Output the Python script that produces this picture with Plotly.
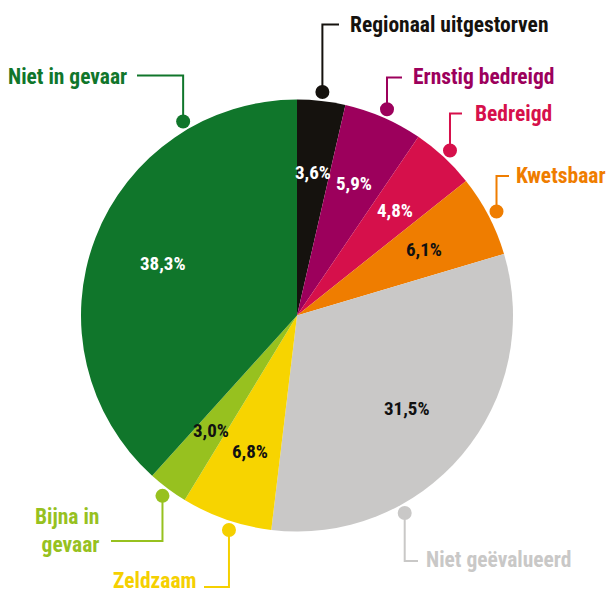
import math
import plotly.graph_objects as go

# ---------------- data ----------------
categories = ["Regionaal uitgestorven", "Ernstig bedreigd", "Bedreigd", "Kwetsbaar",
              "Niet geëvalueerd", "Zeldzaam", "Bijna in gevaar", "Niet in gevaar"]
values = [3.6, 5.9, 4.8, 6.1, 31.5, 6.8, 3.0, 38.3]
pct_labels = ["3,6%", "5,9%", "4,8%", "6,1%", "31,5%", "6,8%", "3,0%", "38,3%"]
display_labels = ["Regionaal uitgestorven", "Ernstig bedreigd", "Bedreigd", "Kwetsbaar",
                  "Niet geëvalueerd", "Zeldzaam", "Bijna in<br>gevaar", "Niet in gevaar"]

# ---------------- style ----------------
slice_colors = ["#15120e", "#9c005c", "#d6104b", "#ef7d00",
                "#c9c8c7", "#f7d400", "#97c11f", "#10762b"]
label_colors = ["#15120e", "#9c005c", "#d6104b", "#ef7d00",
                "#c9c8c7", "#f5d000", "#97c11f", "#10762b"]
pct_text_colors = ["white", "white", "white", "#111111",
                   "#111111", "#111111", "#111111", "white"]

FONT = "Roboto Condensed, Open Sans Condensed, DejaVu Sans Condensed, sans-serif"

W, H = 609, 592
CX, CY, R = 297, 315.5, 216
PCT_RFRAC = 0.665
DOT_R = 225
DOT_SIZE = 7

# leader layout per category: dot-angle override (deg), elbow y, horizontal line end x,
# text x, text anchor, text y
leader = {
    "Regionaal uitgestorven": dict(angle=None, elbow_y=24.5, hx=339, tx=348, anchor="left", ty=24),
    "Ernstig bedreigd": dict(angle=None, elbow_y=77.5, hx=402, tx=411, anchor="left", ty=76),
    "Bedreigd": dict(angle=None, elbow_y=113.5, hx=462, tx=473, anchor="left", ty=113),
    "Kwetsbaar": dict(angle=None, elbow_y=176, hx=509, tx=514, anchor="left", ty=175),
    "Niet geëvalueerd": dict(angle=151.4, elbow_y=561, hx=418, tx=424, anchor="left", ty=559),
    "Zeldzaam": dict(angle=197.6, elbow_y=587, hx=204, tx=198, anchor="right", ty=580),
    "Bijna in gevaar": dict(angle=None, elbow_y=541, hx=111, tx=101, anchor="right", ty=530),
    "Niet in gevaar": dict(angle=329.6, elbow_y=75.5, hx=137, tx=129, anchor="right", ty=76),
}


def px(x):
    return x / W


def py(y):
    return 1 - y / H


fig = go.Figure()
fig.add_trace(go.Pie(
    values=values,
    labels=categories,
    sort=False,
    direction="clockwise",
    rotation=0,
    marker=dict(colors=slice_colors, line=dict(width=0)),
    textinfo="none",
    hovertemplate="%{label}: %{value}%<extra></extra>",
    showlegend=False,
    domain=dict(x=[px(CX - R), px(CX + R)], y=[py(CY + R), py(CY - R)]),
))

annotations = []
shapes = []
total = sum(values)
cum = 0.0
for cat, v, pct, disp, lc, tc in zip(categories, values, pct_labels, display_labels,
                                      label_colors, pct_text_colors):
    mid = (cum + v / 2) / total * 360.0
    cum += v
    th = math.radians(mid)
    # percentage inside slice
    xr = CX + R * PCT_RFRAC * math.sin(th)
    yr = CY - R * PCT_RFRAC * math.cos(th)
    annotations.append(dict(
        x=px(xr), y=py(yr), xref="paper", yref="paper", text=pct, showarrow=False,
        xanchor="center", yanchor="middle",
        font=dict(family=FONT, size=19, color=tc, weight=700),
    ))
    # leader line with dot
    L = leader[cat]
    a = math.radians(L["angle"] if L["angle"] is not None else mid)
    dx = CX + DOT_R * math.sin(a)
    dy = CY - DOT_R * math.cos(a)
    shapes.append(dict(
        type="path", xref="paper", yref="paper",
        path=f"M {px(dx)} {py(dy)} L {px(dx)} {py(L['elbow_y'])} L {px(L['hx'])} {py(L['elbow_y'])}",
        line=dict(color=lc, width=2),
    ))
    shapes.append(dict(
        type="circle", xref="paper", yref="paper",
        x0=px(dx - DOT_SIZE), x1=px(dx + DOT_SIZE),
        y0=py(dy + DOT_SIZE), y1=py(dy - DOT_SIZE),
        fillcolor=lc, line=dict(width=0),
    ))
    annotations.append(dict(
        x=px(L["tx"]), y=py(L["ty"]), xref="paper", yref="paper", text=disp,
        showarrow=False, xanchor=L["anchor"], yanchor="middle", align=L["anchor"],
        font=dict(family=FONT, size=21.5, color=lc, weight=700),
    ))

fig.update_layout(
    width=W, height=H,
    margin=dict(l=0, r=0, t=0, b=0),
    paper_bgcolor="white",
    plot_bgcolor="white",
    annotations=annotations,
    shapes=shapes,
)

fig.write_html("out.html", config={"displayModeBar": False},
               post_script="document.body.style.margin='0';")
